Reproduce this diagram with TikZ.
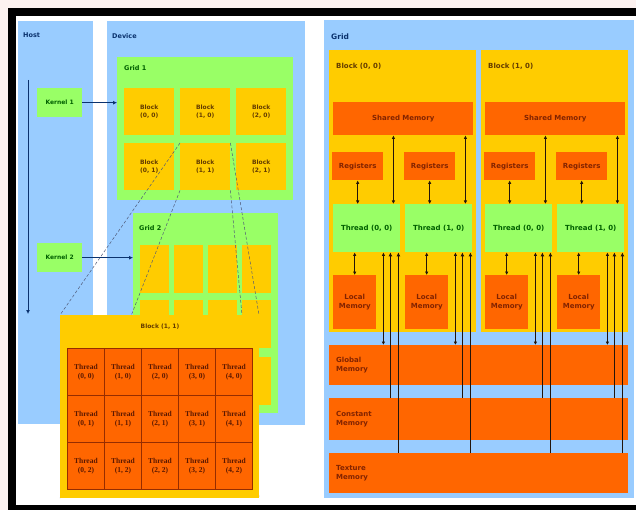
\documentclass[tikz,border=0pt]{standalone}
\usepackage{fontspec}
\setmainfont{DejaVu Sans}
\newfontfamily\cellfont{Liberation Serif}
\usetikzlibrary{arrows.meta,positioning}
\definecolor{panelblue}{RGB}{153,204,255}
\definecolor{gridgreen}{RGB}{153,255,102}
\definecolor{blockyellow}{RGB}{255,204,0}
\definecolor{memorange}{RGB}{255,102,0}
\definecolor{cellline}{RGB}{150,45,0}
\definecolor{txtblue}{RGB}{10,50,110}
\definecolor{txtgreen}{RGB}{0,95,0}
\definecolor{txtolive}{RGB}{100,60,0}
\definecolor{txtbrown}{RGB}{130,35,0}
\definecolor{lineblack}{RGB}{35,20,10}
\definecolor{zoomgray}{RGB}{80,90,120}
\definecolor{paper}{RGB}{252,242,240}

\begin{document}
\begin{tikzpicture}[x=1pt, y=-1pt,
  area/.style={rectangle, inner sep=0pt, anchor=north west},
  lbl/.style={font=\fontsize{6.5}{7.5}\selectfont\bfseries, anchor=west, inner sep=0pt},
  kern/.style={area, fill=gridgreen, minimum width=45, minimum height=29, text=txtgreen, font=\fontsize{6}{7}\selectfont\bfseries},
  blk/.style={area, fill=blockyellow, minimum width=50, minimum height=47, align=center, text=txtolive, font=\fontsize{6}{7.5}\selectfont\bfseries},
  cell/.style={area, fill=memorange, draw=cellline, line width=0.8pt, minimum width=37, minimum height=47, align=center, text=txtbrown!70!black, font=\cellfont\fontsize{7.5}{9}\selectfont\bfseries},
  mem/.style={area, fill=memorange, align=center, text=txtbrown, font=\fontsize{7}{8.5}\selectfont\bfseries},
  memlbl/.style={anchor=west, inner sep=0pt, align=left, text=txtbrown, font=\fontsize{7}{8.5}\selectfont\bfseries},
  thr/.style={area, fill=gridgreen, minimum width=67, minimum height=48, text=txtgreen, font=\fontsize{7}{8.5}\selectfont\bfseries},
  arr/.style={-{Latex[length=4pt,width=4pt]}, line width=0.9pt, draw=lineblack},
  dbl/.style={{Latex[length=3.5pt,width=3.5pt]}-{Latex[length=3.5pt,width=3.5pt]}, line width=0.8pt, draw=lineblack},
  zoomline/.style={densely dashed, line width=0.5pt, draw=zoomgray}
]
\useasboundingbox (0,0) rectangle (636,510);
\fill[paper] (0,0) rectangle (636,510);
\fill[white] (12,12) rectangle (650,509);
\draw[line width=8pt] (12,12) rectangle (650,509);

% host and device
\node[area, fill=panelblue, minimum width=75, minimum height=403] (host) at (18,21) {};
\node[lbl, text=txtblue] at (23,35) {Host};
\node[area, fill=panelblue, minimum width=198, minimum height=404] (dev) at (107,21) {};
\node[lbl, text=txtblue] at (112,36) {Device};

% kernels and time line
\node[kern] (k1) at (37,88) {Kernel 1};
\node[kern] (k2) at (37,243) {Kernel 2};
\coordinate (tl0) at (28,80);
\coordinate (tl1) at (28,314);
\draw[arr, draw=txtblue] (tl0) -- (tl1);

% grid 1
\node[area, fill=gridgreen, minimum width=176, minimum height=143] (g1) at (117,57) {};
\node[lbl, text=txtgreen] at (124,68) {Grid 1};
\foreach \c in {0,1,2}
  \foreach \r in {0,1}
    \node[blk] (b\c\r) at (124+56*\c,88+55*\r) {Block\\(\c, \r)};

% grid 2
\node[area, fill=gridgreen, minimum width=145, minimum height=200] (g2) at (133,213) {};
\node[lbl, text=txtgreen] at (139,228) {Grid 2};
\foreach \c in {0,...,3}
  \foreach \r/\y in {0/245,1/300,2/357}
    \node[blk, minimum width=29, minimum height=48] (c\c\r) at (140+34*\c,\y) {};

\draw[arr, draw=txtblue] (k1.east) -- (k1.east -| g1.west);
\draw[arr, draw=txtblue] (k2.east) -- (k2.east -| g2.west);

% block (1, 1) blown up
\coordinate (bxa) at (60,315);
\coordinate (bxb) at (259,315);
\coordinate (bxc) at (60,498);
\coordinate (bxd) at (259,498);
\draw[zoomline] (b11.north west) -- (bxa);
\draw[zoomline] (b11.north east) -- (bxb);
\draw[zoomline] (b11.south west) -- (bxc);
\draw[zoomline] (b11.south east) -- (bxd);
\node[area, fill=blockyellow, minimum width=199, minimum height=183] (bx) at (bxa) {};
\node[text=txtolive, font=\fontsize{6}{7}\selectfont\bfseries] at (160,327) {Block (1, 1)};
\foreach \c in {0,...,4}
  \foreach \r in {0,1,2}
    \node[cell] (th\c\r) at (67+37*\c,348+47*\r) {Thread\\(\c, \r)};

% memory model
\node[area, fill=panelblue, minimum width=310, minimum height=478] (grid) at (324,20) {};
\node[lbl, text=txtblue, font=\fontsize{7.5}{9}\selectfont\bfseries] at (331,37) {Grid};
\node[mem, minimum width=299, minimum height=40] (gmem) at (329,345) {};
\node[mem, minimum width=299, minimum height=42] (cmem) at (329,398) {};
\node[mem, minimum width=299, minimum height=40] (tmem) at (329,453) {};
\node[memlbl] at ([xshift=7pt]gmem.west) {Global\\Memory};
\node[memlbl] at ([xshift=7pt]cmem.west) {Constant\\Memory};
\node[memlbl] at ([xshift=7pt]tmem.west) {Texture\\Memory};

\foreach \i/\L in {0/329,1/481} {
  \node[area, fill=blockyellow, minimum width=147, minimum height=282] (blk\i) at (\L,50) {};
  \node[lbl, text=txtolive, font=\fontsize{7}{8}\selectfont\bfseries] at (\L+7,66) {Block (\i, 0)};
  \node[mem, minimum width=140, minimum height=33] (sm\i) at (\L+4,102) {Shared Memory};
  \foreach \j/\dx in {0/0,1/72} {
    \node[mem, minimum width=51, minimum height=28] (reg\i\j) at (\L+3+\dx,152) {Registers};
    \node[thr] (thr\i\j) at (\L+4+\dx,204) {Thread (\j, 0)};
    \node[mem, minimum width=43, minimum height=54] (lm\i\j) at (\L+4+\dx,275) {Local\\Memory};
  }
}

\foreach \i in {0,1}
  \foreach \j in {0,1} {
    \coordinate (sx\i\j) at ([xshift=-7pt]thr\i\j.north east);
    \coordinate (gx\i\j) at ([xshift=-17pt]thr\i\j.south east);
    \coordinate (cx\i\j) at ([xshift=-10pt]thr\i\j.south east);
    \coordinate (tx\i\j) at ([xshift=-2pt]thr\i\j.south east);
    \draw[dbl] (reg\i\j.south) -- (reg\i\j.south |- thr\i\j.north);
    \draw[dbl] (sm\i.south -| sx\i\j) -- (sx\i\j);
    \draw[dbl] (lm\i\j.north) -- (lm\i\j.north |- thr\i\j.south);
    \draw[dbl] (gx\i\j) -- (gx\i\j |- gmem.north);
    \draw[arr] (cx\i\j |- cmem.north) -- (cx\i\j);
    \draw[arr] (tx\i\j |- tmem.north) -- (tx\i\j);
  }
\end{tikzpicture}
\end{document}
